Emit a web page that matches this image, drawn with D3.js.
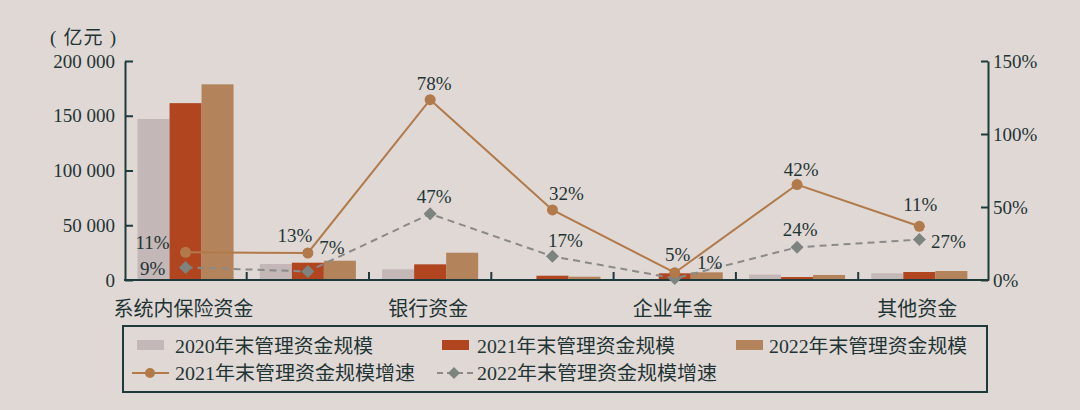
<!DOCTYPE html>
<html><head><meta charset="utf-8">
<script src="https://cdn.jsdelivr.net/npm/d3@7/dist/d3.min.js"></script>
<style>
html,body{margin:0;padding:0;background:#e0d8d5;}
svg{display:block;}
text{font-family:"Liberation Serif","Noto Sans CJK SC",serif;fill:#1f3434;}
</style></head>
<body>
<svg id="chart" width="1080" height="410"></svg>
<script>
// ---- data ----
const categories = ['系统内保险资金','系统外保险资金','银行资金','养老金','企业年金','职业年金','其他资金'];
const categoryLabels = ['系统内保险资金','','银行资金','','企业年金','','其他资金'];
const seriesNames = ['2020年末管理资金规模','2021年末管理资金规模','2022年末管理资金规模'];
const aum2020 = [147000, 14600, 9800, 600, 500, 4900, 6100];
const aum2021 = [161500, 15800, 14300, 3900, 6100, 2700, 7300];
const aum2022 = [178700, 17600, 24900, 3000, 7000, 4600, 8200];
const growthNames = ['2021年末管理资金规模增速','2022年末管理资金规模增速'];
const growth2021 = [19, 18.5, 123.5, 48, 5, 65.4, 36.8];
const growth2021Labels = ['11%','13%','78%','32%','5%','42%','11%'];
const growth2022 = [8.6, 5.9, 45.3, 16.2, 1.1, 22.4, 27.7];
const growth2022Labels = ['9%','7%','47%','17%','1%','24%','27%'];
const leftTicks = [0, 50000, 100000, 150000, 200000];
const rightTicks = [0, 50, 100, 150];
const unitLabel = '( 亿元 )';

// ---- styles / layout ----
const barColors = ['#c3b7b7','#b0451f','#b3835b'];
const line1Color = '#b27a4a';
const line2Color = '#8a8a88';
const diamondColor = '#7d8480';
const axisColor = '#1f3a3a';
const lab1Off = [[-33,-10],[-13,-17],[4,-16],[14,-16],[3,-18],[4,-15],[1,-22]];
const lab2Off = [[-33,1],[24,-24],[4,-17],[13,-16],[35,-16],[3,-18],[29,2]];

const svg = d3.select('#chart');
const x0 = d3.scaleBand().domain(categories).range([124.4, 980.5]).padding(0);
const x1 = d3.scaleBand().domain(seriesNames).range([0, x0.bandwidth()]).paddingInner(0).paddingOuter(0.41);
const yL = d3.scaleLinear().domain([0, 200000]).range([280, 61]);
const yR = d3.scaleLinear().domain([0, 150]).range([280, 61]);
const cx = c => x0(c) + x0.bandwidth()/2;

// bars
const barData = [aum2020, aum2021, aum2022];
categories.forEach((c, i) => {
  seriesNames.forEach((s, k) => {
    svg.append('rect')
      .attr('x', x0(c) + x1(s))
      .attr('y', yL(barData[k][i]))
      .attr('width', x1.bandwidth())
      .attr('height', yL(0) - yL(barData[k][i]))
      .attr('fill', barColors[k]);
  });
});

// axes
const loc = d3.formatLocale({decimal:'.', thousands:' ', grouping:[3], currency:['','']});
const fmt = loc.format(',');
const gL = svg.append('g').attr('transform','translate(125,0)')
  .call(d3.axisLeft(yL).tickValues(leftTicks).tickFormat(fmt).tickSizeInner(-8).tickSizeOuter(0).tickPadding(10));
const gR = svg.append('g').attr('transform','translate(988,0)')
  .call(d3.axisRight(yR).tickValues(rightTicks).tickFormat(d => d + '%').tickSizeInner(-7).tickSizeOuter(0).tickPadding(5));
[gL, gR].forEach(g => {
  g.select('.domain').attr('stroke', axisColor).attr('stroke-width', 2);
  g.selectAll('.tick line').attr('stroke', axisColor).attr('stroke-width', 2);
  g.selectAll('.tick text').attr('font-size', 19).attr('fill', '#1f3434')
    .attr('font-family', '"Liberation Serif",serif');
});

// x axis
svg.append('line').attr('x1',124).attr('x2',989).attr('y1',280).attr('y2',280)
  .attr('stroke', axisColor).attr('stroke-width', 2);
categories.slice(1).forEach(c => {
  svg.append('line').attr('x1', x0(c)).attr('x2', x0(c)).attr('y1', 280).attr('y2', 272)
    .attr('stroke', axisColor).attr('stroke-width', 2);
});
categories.forEach((c, i) => {
  if (!categoryLabels[i]) return;
  svg.append('text').attr('x', cx(c) - 2).attr('y', 309).attr('text-anchor','middle')
    .attr('dominant-baseline','central').attr('font-size', 20).attr('fill','#2a3535')
    .text(categoryLabels[i]);
});

// unit
svg.append('text').attr('x', 50).attr('y', 37).attr('dominant-baseline','central')
  .attr('font-size', 19).attr('textLength', 66).attr('lengthAdjust','spacing').text(unitLabel);

// lines
const line = d3.line().x((d,i) => cx(categories[i])).y(d => yR(d));
svg.append('path').datum(growth2022).attr('d', line).attr('fill','none')
  .attr('stroke', line2Color).attr('stroke-width', 2).attr('stroke-dasharray','7,5');
svg.append('path').datum(growth2021).attr('d', line).attr('fill','none')
  .attr('stroke', line1Color).attr('stroke-width', 2);

const diamond = (x, y, r) => `M${x},${y-r}L${x+r},${y}L${x},${y+r}L${x-r},${y}Z`;
growth2022.forEach((v, i) => {
  svg.append('path').attr('d', diamond(cx(categories[i]), yR(v), 6.5)).attr('fill', diamondColor);
});
growth2021.forEach((v, i) => {
  svg.append('circle').attr('cx', cx(categories[i])).attr('cy', yR(v)).attr('r', 5.5).attr('fill', line1Color);
});

// data labels
growth2021.forEach((v, i) => {
  svg.append('text').attr('x', cx(categories[i]) + lab1Off[i][0]).attr('y', yR(v) + lab1Off[i][1])
    .attr('text-anchor','middle').attr('dominant-baseline','central').attr('font-size', 19)
    .text(growth2021Labels[i]);
});
growth2022.forEach((v, i) => {
  svg.append('text').attr('x', cx(categories[i]) + lab2Off[i][0]).attr('y', yR(v) + lab2Off[i][1])
    .attr('text-anchor','middle').attr('dominant-baseline','central').attr('font-size', 19)
    .text(growth2022Labels[i]);
});

// legend
svg.append('rect').attr('x', 123).attr('y', 326).attr('width', 864).attr('height', 66)
  .attr('fill','none').attr('stroke', axisColor).attr('stroke-width', 2);
const legBarX = [137, 442, 736];
const legTextX = [175, 477, 769];
seriesNames.forEach((s, k) => {
  svg.append('rect').attr('x', legBarX[k]).attr('y', 340).attr('width', 27).attr('height', 10).attr('fill', barColors[k]);
  svg.append('text').attr('x', legTextX[k]).attr('y', 346).attr('dominant-baseline','central')
    .attr('font-size', 19).attr('textLength', 198).attr('lengthAdjust','spacingAndGlyphs').text(s);
});
// line legends
svg.append('line').attr('x1',132).attr('x2',169).attr('y1',373).attr('y2',373).attr('stroke', line1Color).attr('stroke-width',2);
svg.append('circle').attr('cx',150).attr('cy',373).attr('r',5).attr('fill', line1Color);
svg.append('text').attr('x',175).attr('y',373).attr('dominant-baseline','central').attr('font-size',19)
  .attr('textLength', 240).attr('lengthAdjust','spacingAndGlyphs').text(growthNames[0]);
svg.append('line').attr('x1',437).attr('x2',473).attr('y1',373).attr('y2',373).attr('stroke', line2Color).attr('stroke-width',2).attr('stroke-dasharray','6,4');
svg.append('path').attr('d', diamond(454, 373, 6)).attr('fill', diamondColor);
svg.append('text').attr('x',477).attr('y',373).attr('dominant-baseline','central').attr('font-size',19)
  .attr('textLength', 240).attr('lengthAdjust','spacingAndGlyphs').text(growthNames[1]);
</script>
</body></html>
